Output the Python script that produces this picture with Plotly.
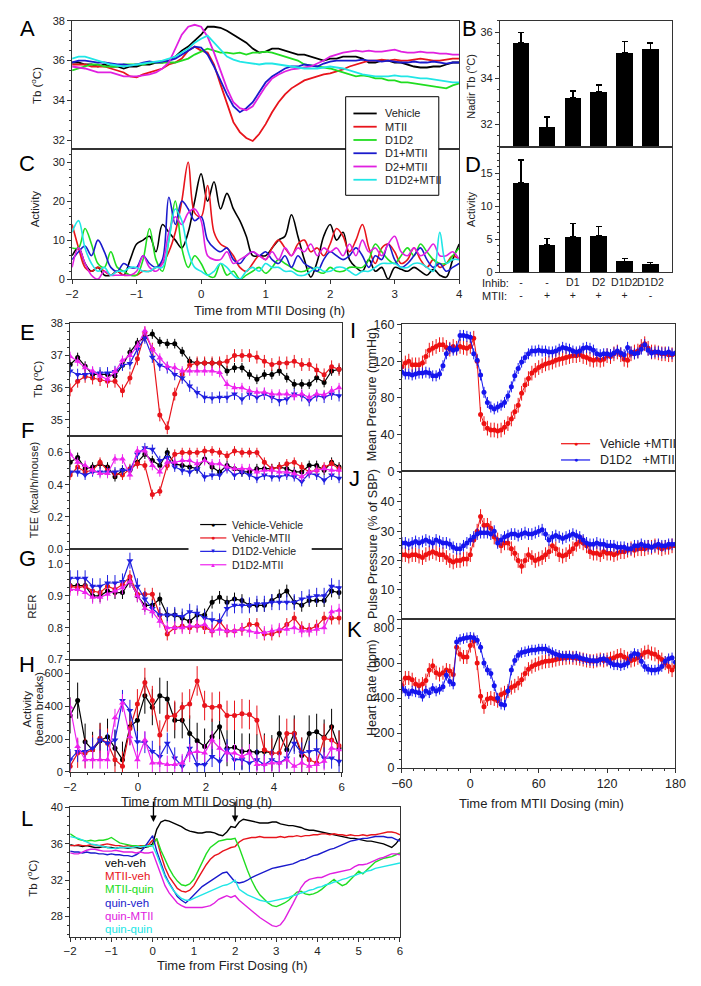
import plotly.graph_objects as go

W, H = 701, 986
FONT = "Liberation Sans, Arial, sans-serif"
LC = "#333333"

# ============================ DATA ============================
# ---- Panel A (Tb) and C (Activity): time grid (h) ----
A_T = [round(-2 + 0.1 * i, 1) for i in range(61)]
A_VEH = [35.9,35.9,35.8,35.8,35.7,35.8,35.7,35.7,35.6,35.7,
         35.7,35.8,35.8,35.9,35.9,36.0,36.2,36.5,36.7,37.0,
         37.3,37.7,37.7,37.65,37.5,37.3,37.1,36.9,36.6,36.4,
         36.45,36.6,36.6,36.5,36.4,36.3,36.3,36.2,36.1,36.0,
         36.1,36.1,36.2,36.2,36.2,36.1,35.9,35.9,36.0,36.0,
         35.9,35.9,35.8,35.7,35.65,35.65,35.7,35.7,35.8,35.9,35.9]
A_MTII = [35.8,35.8,35.8,35.7,35.7,35.7,35.6,35.5,35.4,35.2,
          35.15,35.3,35.4,35.5,35.6,35.8,35.9,36.1,36.5,36.7,
          36.5,36.4,35.8,34.8,33.8,32.9,32.4,32.1,31.95,32.3,
          32.8,33.4,33.9,34.3,34.6,34.8,35.0,35.1,35.2,35.3,
          35.35,35.45,35.55,35.7,35.8,35.9,36.0,36.0,36.05,36.0,
          36.05,36.0,36.0,36.05,36.1,36.05,36.0,36.0,36.05,36.1,36.1]
A_D1D2 = [35.5,35.6,35.7,35.8,35.8,35.7,35.7,35.7,35.8,35.8,
          35.8,35.8,35.9,35.9,35.9,35.9,35.9,36.0,36.1,36.3,
          36.45,36.6,36.5,36.4,36.4,36.35,36.4,36.3,36.4,36.4,
          36.45,36.4,36.3,36.2,36.1,36.0,35.8,35.75,35.7,35.65,
          35.6,35.5,35.4,35.3,35.2,35.25,35.2,35.1,35.1,35.0,
          35.0,34.9,34.9,34.85,34.8,34.75,34.7,34.65,34.6,34.75,34.85]
A_D1M = [35.9,36.0,36.0,35.95,35.9,35.9,35.85,35.8,35.8,35.75,
         35.8,35.9,35.95,35.9,35.95,36.0,36.1,36.3,36.5,36.7,
         36.65,36.3,35.7,35.0,34.3,33.7,33.4,33.6,33.9,34.4,
         34.9,35.2,35.4,35.6,35.7,35.7,35.8,35.75,35.7,35.85,
         35.95,36.0,36.0,36.0,36.0,36.05,36.0,36.0,35.95,36.0,
         35.95,35.9,35.9,35.95,35.9,35.9,35.95,35.9,35.85,35.9,35.9]
A_D2M = [35.7,35.65,35.6,35.5,35.4,35.4,35.4,35.3,35.2,35.2,
         35.2,35.25,35.3,35.4,35.6,35.9,36.6,37.3,37.7,37.8,
         37.7,37.2,36.4,35.5,34.6,33.9,33.6,33.5,33.7,34.2,
         34.7,35.1,35.3,35.45,35.55,35.6,35.65,35.7,35.85,36.0,
         36.2,36.3,36.4,36.45,36.5,36.45,36.5,36.45,36.45,36.5,
         36.55,36.45,36.4,36.4,36.45,36.4,36.4,36.35,36.35,36.3,36.3]
A_D1D2M = [36.1,36.2,36.2,36.1,36.0,35.9,35.8,35.75,35.7,35.75,
           35.8,35.85,35.9,35.95,36.0,36.1,36.2,36.4,36.6,36.9,
           37.1,37.25,36.9,36.5,36.2,36.05,35.95,35.9,35.85,35.8,
           35.85,35.85,35.8,35.75,35.7,35.65,35.6,35.6,35.6,35.65,
           35.7,35.65,35.6,35.5,35.4,35.3,35.25,35.2,35.2,35.2,
           35.25,35.2,35.2,35.15,35.1,35.1,35.05,35.0,34.95,34.9,34.9]

C_VEH = [6,8,4,2,3,1,1,2,1,5,
         9,10,11,7,14,12,10,8,12,20,
         27,20,25,18,22,18,15,11,6,6,
         6,8,10,11,16.5,11,5,0.5,4.5,11,
         14,10,12,5,3,2,5,2,3,0,
         3,2.5,2,3,2,1,2.5,1,0.5,5,9]
C_MTII = [14,8,3,2,3,2,1,2,1,1,
          1,2,2,3,4,7,12,20,30,17,
          16,24,12,9,8,6,3,2,4,6,
          5,8,10,8,6,9,10,7,8,6,
          9,13,11,7,10,14,8,4,8,9,
          7,4,5,8,5,3,5,3,4,6,5]
C_D1D2 = [8,8,13,9,4,3,7,3,2,1,
          1,5,13,5,2,10,20,8,3,6,
          4,1,0.5,4,1,2,0,1,2,3,
          1.5,3,5,4,3,2,2,3,2,1.5,
          3,2,2,3,3,3,5,9,7,5,
          4,6,8,6,9,7,5,4,4,6,8]
C_D1M = [5,7,8.5,6,10,7,3,2,4,3,
         3,6,4,3,5,21,14,20,18,15,
         16,10,8,7,8,5,4,6,7,6,
         7,5,4,6,3,6,4,3,2,5,
         7,6,5,6,8,6,3,6,5,9,
         5,3,4,6,8,5,3,4,2,3,4]
C_D2M = [3,8,4,1,0,2,1,1,1,1,
         2,6,3,2,4,12,16,14,17,18,
         15,6,5,5,7,4,5,6,7,6,
         5,7,5,8,6,8,7,9,6,8,
         7,8,6,9,6,10,7,8,6,9,
         11,7,6,8,6,7,9,6,6,7,5]
C_D1D2M = [12,15,8,4,2,3,1,2,2,3,
           3,2,2,3,3,10,18,15,7,3,
           2,1,2,4,3,1,0,2,3,2,
           4,3,3,2,2,1,1,2,3,2,
           2,3,3,2,1,2,2,3,4,4,
           4,3,3,4,4,3,2,12,4,5,5]
AC_NAMES = ["Vehicle", "MTII", "D1D2", "D1+MTII", "D2+MTII", "D1D2+MTII"]

# ---- Panels B and D (bars) ----
BAR_POS = [0, 1, 2, 3, 4, 5]
B_NADIR = [35.55, 31.85, 33.15, 33.4, 35.1, 35.25]
B_ERR = [0.45, 0.45, 0.3, 0.3, 0.5, 0.28]
D_ACT = [13.6, 4.2, 5.4, 5.5, 1.65, 1.2]
D_ERR = [3.4, 0.9, 2.0, 1.4, 0.45, 0.25]
INHIB_ROW = ["-", "-", "D1", "D2", "D1D2", "D1D2"]
MTII_ROW = ["-", "+", "+", "+", "+", "-"]

# ---- Panels E-H ----
E_T = [round(-2 + 0.22 * i, 2) for i in range(37)]
E_VV = [36.72,36.94,36.67,36.41,36.41,36.41,36.36,36.7,37.1,37.4,
        37.58,37.67,37.43,37.37,37.37,37.12,36.82,36.77,36.77,36.77,
        36.77,36.52,36.62,36.62,36.41,36.26,36.41,36.41,36.52,36.31,
        36.11,36.11,36.11,36.31,36.16,36.52,36.57]
E_VM = [35.93,36.2,36.35,36.3,36.25,36.2,36.2,35.9,36.3,36.9,
        37.7,37.2,35.15,34.75,35.8,36.41,36.7,36.77,36.77,36.77,
        36.77,36.82,37.0,37.0,37.0,36.95,36.82,36.72,36.77,36.77,
        36.82,36.72,36.72,36.55,36.4,36.65,36.57]
E_DV = [36.52,36.41,36.41,36.46,36.46,36.46,36.5,36.7,36.75,37.2,
        37.55,36.95,36.7,36.62,36.41,36.3,36.05,35.85,35.7,35.68,
        35.7,35.7,35.8,35.65,35.8,35.7,35.8,35.7,35.6,35.65,
        35.8,35.75,35.6,35.75,35.7,35.8,35.75]
E_DM = [36.97,36.82,36.62,36.52,36.36,36.26,36.5,36.85,37.0,37.3,
        37.77,37.2,36.92,36.67,36.62,36.52,36.52,36.52,36.52,36.52,
        36.47,36.1,36.0,36.0,35.9,35.86,35.86,35.8,35.8,35.8,
        35.75,35.8,35.7,35.8,35.78,35.9,36.0]
F_VV = [0.54,0.57,0.50,0.51,0.53,0.51,0.45,0.49,0.49,0.54,
        0.59,0.55,0.52,0.60,0.53,0.52,0.51,0.50,0.56,0.51,
        0.48,0.52,0.50,0.48,0.48,0.50,0.50,0.50,0.51,0.50,
        0.48,0.48,0.52,0.52,0.49,0.54,0.51]
F_VM = [0.46,0.51,0.48,0.49,0.54,0.49,0.47,0.46,0.50,0.53,
        0.52,0.34,0.36,0.52,0.59,0.60,0.60,0.60,0.61,0.61,
        0.60,0.58,0.61,0.60,0.60,0.60,0.54,0.50,0.51,0.53,
        0.54,0.51,0.48,0.49,0.51,0.53,0.50]
F_DV = [0.48,0.48,0.46,0.48,0.48,0.48,0.48,0.49,0.49,0.59,
        0.63,0.62,0.55,0.57,0.51,0.49,0.48,0.50,0.45,0.46,
        0.46,0.50,0.46,0.48,0.46,0.44,0.46,0.45,0.45,0.46,
        0.45,0.42,0.47,0.46,0.43,0.46,0.44]
F_DM = [0.59,0.54,0.52,0.49,0.47,0.47,0.56,0.56,0.46,0.61,
        0.61,0.52,0.48,0.54,0.54,0.55,0.55,0.53,0.55,0.53,
        0.53,0.51,0.50,0.50,0.50,0.48,0.49,0.49,0.48,0.48,
        0.47,0.45,0.48,0.49,0.50,0.49,0.49]
G_VV = [0.932,0.932,0.932,0.90,0.90,0.915,0.91,0.91,0.946,0.90,
        0.87,0.87,0.89,0.84,0.84,0.83,0.82,0.84,0.84,0.88,
        0.895,0.88,0.89,0.885,0.87,0.87,0.87,0.885,0.90,0.915,
        0.88,0.87,0.885,0.885,0.885,0.915,0.91]
G_VM = [0.93,0.925,0.93,0.915,0.91,0.93,0.92,0.935,0.96,0.905,
        0.905,0.905,0.84,0.78,0.80,0.805,0.80,0.805,0.80,0.79,
        0.82,0.79,0.79,0.795,0.81,0.81,0.78,0.78,0.79,0.81,
        0.83,0.80,0.795,0.805,0.83,0.83,0.83]
G_DV = [0.955,0.955,0.955,0.93,0.93,0.94,0.94,0.945,1.01,0.93,
        0.89,0.86,0.84,0.84,0.84,0.835,0.85,0.845,0.83,0.825,
        0.82,0.86,0.87,0.87,0.87,0.875,0.875,0.88,0.88,0.88,
        0.88,0.89,0.895,0.90,0.90,0.93,0.925]
G_DM = [0.92,0.92,0.91,0.895,0.895,0.905,0.915,0.925,0.945,0.90,
        0.86,0.85,0.82,0.80,0.80,0.80,0.805,0.805,0.81,0.79,
        0.795,0.79,0.79,0.795,0.79,0.785,0.785,0.79,0.795,0.795,
        0.80,0.79,0.79,0.795,0.80,0.85,0.855]
H_VV = [345,435,185,135,190,215,145,75,275,315,
        465,395,465,445,315,315,235,190,155,215,
        275,145,150,125,125,120,125,115,235,135,
        235,100,235,245,210,275,145]
H_VM = [35,115,115,135,205,175,75,35,265,415,
        545,435,225,335,345,395,415,555,405,395,
        400,345,345,355,350,315,135,115,115,235,
        235,120,75,55,205,195,160]
H_DV = [75,125,125,145,195,175,195,435,375,185,
        180,125,95,175,85,35,145,45,45,95,
        65,135,75,75,55,75,45,75,55,85,
        175,115,125,135,85,85,65]
H_DM = [395,155,75,75,75,75,330,420,215,75,
        195,55,55,45,45,55,115,125,115,195,
        145,115,115,95,115,45,45,55,55,75,
        35,55,35,45,65,145,135]
EH_NAMES = ["Vehicle-Vehicle", "Vehicle-MTII", "D1D2-Vehicle", "D1D2-MTII"]
E_SEM = [0.15, 0.2, 0.18, 0.15]
F_SEM = [0.03, 0.03, 0.03, 0.03]
G_SEM = [0.02, 0.02, 0.025, 0.02]
H_SEM = [110, 90, 65, 55]

# ---- Panels I-K (min) ----
IK_T = list(range(-60, 181, 3))
I_VEH = [114,118,120,116,116,116,118,125,132,134,
         136,138,138,135,133,136,134,136,135,134,
         136,145,120,62,52,47,45,45,44,45,
         48,52,57,65,72,85,94,101,107,110,
         113,115,117,118,119,121,122,123,124,125,
         126,126,127,125,124,122,121,122,121,122,
         126,125,128,130,127,122,121,128,130,131,
         136,139,134,130,130,129,128,128,127,127,128]
I_D1D2 = [108,106,106,105,106,107,107,108,107,104,
          104,106,115,128,134,132,133,148,148,147,
          146,128,121,105,86,75,70,68,70,72,
          75,82,92,104,112,119,124,128,131,131,
          132,131,131,130,130,131,133,135,134,133,
          131,130,131,134,135,134,132,128,127,128,
          128,127,129,131,129,127,135,130,128,129,
          133,138,132,129,130,130,129,129,130,128,129]
J_VEH = [22,22,21.5,22,22,21.5,21,22,22.5,23,
         22.5,22,22,21,20,19.5,20,20,20.5,20.5,
         22,27,30,35,32,32,31,28,27,25,
         26,26,24,22.5,20,18,20,22,21,20,
         20.5,21,22,23,25,24,22,21.5,22,23,
         24,25.5,26.5,26,25,23,22.5,22.5,22,23,
         22.5,22.5,22,22.5,23,23,23.5,24,23.5,24,
         24,24,24.5,24.5,25,24.5,24,24.5,24.5,25,25]
J_D1D2 = [26,26,25.5,26,26.5,26,26.5,27,26.5,26,
          27,26.5,26,26,25.5,24.5,24,24,25,26,
          27,28,29,29.5,29.5,29.5,29,30,26,27,
          28,28.5,29,29,28.5,29,29.5,29,29,29.5,
          30,30.5,29,27,28,28.5,28,27.5,28,28.5,
          29,28.5,28,27,26,25.5,25.5,26,25.5,25.5,
          25,25,25,24.5,24.5,24.5,24,24,25,25,
          25.5,25,25,24.5,25,25.5,25,25,25.5,25.5,25.5]
K_VEH = [473,515,515,505,480,470,480,500,560,585,
         545,535,545,560,555,535,690,650,635,635,
         700,725,600,410,350,395,400,395,385,420,
         430,440,460,470,485,505,540,565,580,590,
         598,605,610,612,615,620,625,628,630,632,
         630,628,625,620,615,612,610,615,620,615,
         620,625,630,640,645,635,625,615,620,630,
         645,660,665,655,650,635,620,600,580,560,580]
K_D1D2 = [455,440,425,440,435,430,410,440,430,455,
          440,450,465,530,495,480,720,735,740,745,
          748,745,730,690,600,560,540,470,400,365,
          360,440,560,615,645,660,665,670,675,675,
          680,680,680,670,660,650,645,640,640,640,
          635,640,630,625,620,615,615,612,620,625,
          615,600,590,590,585,590,600,640,655,650,
          610,580,565,560,560,565,580,610,625,630,605]
IK_NAMES = ["Vehicle\u00a0+MTII", "D1D2\u00a0\u00a0\u00a0+MTII"]
I_SEM = [8, 6]
J_SEM = [2.5, 2.0]
K_SEM = [40, 30]

# ---- Panel L ----
L_T = [round(-2 + 0.1 * i, 1) for i in range(81)]
L_VV = [35.9,35.8,35.8,35.7,35.8,35.7,35.6,35.6,35.7,35.6,
        35.6,35.5,35.6,35.6,35.5,35.6,35.6,35.5,35.6,35.7,
        36.0,37.6,38.4,38.6,38.5,38.3,38.1,37.9,37.6,37.4,
        37.3,37.2,37.2,37.3,37.3,37.2,37.0,36.9,37.3,37.9,
        37.8,38.4,38.7,38.6,38.5,38.4,38.3,38.3,38.3,38.4,
        38.4,38.2,38.1,38.0,38.0,37.9,37.8,37.6,37.5,37.5,
        37.4,37.3,37.2,37.1,37.0,36.9,36.8,36.7,36.6,36.6,
        36.5,36.4,36.3,36.3,36.2,36.1,36.0,35.8,35.6,36.0,36.6]
L_MV = [35.8,35.8,35.9,35.8,35.8,35.9,35.9,35.8,35.9,36.0,
        35.9,35.8,35.8,35.7,35.8,35.7,35.7,35.8,35.8,35.9,
        36.4,36.5,34.8,33.4,32.4,31.7,31.1,30.8,30.7,30.9,
        31.4,32.2,33.0,33.7,34.3,34.7,34.9,35.2,35.4,35.6,
        35.7,36.2,36.5,36.6,36.7,36.7,36.8,36.7,36.7,36.7,
        36.7,36.8,36.7,36.8,36.8,36.9,36.8,36.9,36.9,37.0,
        37.0,37.1,37.1,37.0,37.1,37.0,37.0,36.9,37.0,36.9,
        36.9,37.0,36.9,37.0,37.0,37.1,37.2,37.3,37.3,37.2,37.0]
L_MQ = [37.1,36.8,36.5,36.4,36.3,36.4,36.3,36.4,36.4,36.5,
        36.7,36.4,36.1,36.0,35.9,35.8,35.8,35.7,35.8,35.7,
        35.8,36.6,35.3,34.2,33.3,32.5,31.9,31.5,31.4,31.6,
        32.1,33.0,34.0,34.9,35.6,36.0,36.3,36.4,36.5,36.5,
        36.6,35.6,34.3,33.1,32.0,31.1,30.4,29.9,29.5,29.2,
        29.1,29.3,29.5,29.8,30.3,30.7,30.8,30.5,30.4,30.5,
        30.7,31.0,31.4,31.8,32.1,31.7,31.4,31.6,32.1,32.6,
        33.0,32.7,33.1,33.6,34.0,34.2,34.4,34.5,34.6,34.8,35.0]
L_QV = [35.2,35.1,35.1,35.0,35.1,35.0,35.0,34.9,34.9,34.8,
        34.9,34.8,34.8,34.7,34.7,34.6,34.8,35.1,35.6,36.3,
        36.9,35.2,33.8,32.6,31.7,30.9,30.2,29.8,29.5,29.9,
        30.4,30.9,31.3,31.6,31.9,32.2,32.5,32.8,32.9,32.4,
        31.8,31.7,31.8,32.0,32.3,32.5,32.7,32.9,33.1,33.3,
        33.4,33.5,33.6,33.7,33.8,34.0,34.2,34.3,34.5,34.7,
        34.8,35.0,35.2,35.4,35.5,35.7,35.9,36.1,36.3,36.4,
        36.5,36.6,36.6,36.7,36.8,36.8,36.8,36.7,36.7,36.5,36.3]
L_QM = [35.0,34.9,34.9,35.1,35.3,35.4,35.4,35.3,35.2,35.2,
        35.2,35.3,35.2,35.1,35.1,35.1,35.0,35.1,35.0,35.0,
        35.1,33.9,32.5,31.4,30.6,30.0,29.5,29.2,29.0,29.0,
        29.0,29.0,29.0,29.1,29.2,29.5,29.9,30.1,30.3,30.1,
        30.3,29.8,29.4,29.0,28.6,28.2,27.9,27.6,27.3,27.0,
        26.9,27.1,27.7,28.5,29.4,30.3,31.2,31.8,32.1,32.2,
        32.3,32.3,32.5,32.7,32.8,32.9,33.0,33.1,33.2,33.5,
        33.7,33.7,33.8,34.0,34.2,34.4,34.5,34.7,34.9,34.9,34.8]
L_QQ = [36.8,36.7,36.6,36.4,36.2,36.0,35.9,35.8,35.7,35.6,
        35.5,35.5,35.6,35.6,35.6,35.6,35.7,35.7,35.7,35.8,
        35.8,34.8,33.5,32.4,31.6,30.9,30.4,30.0,29.8,29.8,
        30.0,30.2,30.4,30.6,30.8,31.0,31.2,31.4,31.5,31.7,
        32.0,31.0,30.7,30.4,30.2,30.0,29.8,29.7,29.6,29.7,
        29.8,29.9,30.0,30.1,30.3,30.4,30.6,30.7,30.9,31.0,
        31.2,31.3,31.5,31.6,31.8,31.9,32.1,32.2,32.4,32.5,
        32.7,32.8,33.0,33.1,33.3,33.4,33.5,33.6,33.7,33.8,33.9]
L_NAMES = ["veh-veh", "MTII-veh", "MTII-quin", "quin-veh", "quin-MTII", "quin-quin"]
DOSE_TIMES = [0.02, 2.0]
DOSE_ARROW_TB = 38.4

for arr, n in [(A_VEH, 61), (A_MTII, 61), (A_D1D2, 61), (A_D1M, 61), (A_D2M, 61), (A_D1D2M, 61),
               (C_VEH, 61), (C_MTII, 61), (C_D1D2, 61), (C_D1M, 61), (C_D2M, 61), (C_D1D2M, 61),
               (E_VV, 37), (E_VM, 37), (E_DV, 37), (E_DM, 37), (F_VV, 37), (F_VM, 37), (F_DV, 37), (F_DM, 37),
               (G_VV, 37), (G_VM, 37), (G_DV, 37), (G_DM, 37), (H_VV, 37), (H_VM, 37), (H_DV, 37), (H_DM, 37),
               (I_VEH, 81), (I_D1D2, 81), (J_VEH, 81), (J_D1D2, 81), (K_VEH, 81), (K_D1D2, 81),
               (L_VV, 81), (L_MV, 81), (L_MQ, 81), (L_QV, 81), (L_QM, 81), (L_QQ, 81)]:
    assert len(arr) == n, (len(arr), n, arr[:3])

# ============================ STYLE ============================
C6 = ["#000000", "#e8141c", "#20dd20", "#1a1acc", "#e020e0", "#20e6e6"]
C4 = ["#000000", "#e8141c", "#1f1fe0", "#ee22ee"]
SYM4 = ["circle", "circle", "triangle-down", "triangle-up"]
C2 = ["#ee1111", "#1515ee"]


def xdom(a, b):
    return [a / W, b / W]


def ydom(top, bot):
    return [1 - bot / H, 1 - top / H]


def axis(dom, rng, anchor, labels=True, fsize=11, **kw):
    d = dict(domain=dom, range=rng, anchor=anchor, showline=True, mirror=True,
             linecolor=LC, linewidth=1, showgrid=False, zeroline=False, fixedrange=True)
    if labels:
        d.update(ticks="outside", ticklen=4, tickwidth=1, tickcolor=LC, showticklabels=True,
                 tickfont=dict(size=fsize, color="#222", family=FONT))
    else:
        d.update(ticks="", showticklabels=False)
    minor = kw.pop("minor", None)
    if minor is not None:
        d["minor"] = dict(ticks="outside", ticklen=2, tickcolor=LC, tickmode="linear",
                          tick0=minor[0], dtick=minor[1], showgrid=False)
    d.update(kw)
    return d


fig = go.Figure()

# ---- A ----
for ys, col in zip([A_VEH, A_MTII, A_D1D2, A_D1M, A_D2M, A_D1D2M], C6):
    fig.add_trace(go.Scatter(x=A_T, y=ys, mode="lines", line=dict(color=col, width=1.8),
                             xaxis="x", yaxis="y", showlegend=False))
# ---- C ----
for ys, col in zip([C_VEH, C_MTII, C_D1D2, C_D1M, C_D2M, C_D1D2M], C6):
    fig.add_trace(go.Scatter(x=A_T, y=ys, mode="lines",
                             line=dict(color=col, width=1.6, shape="spline", smoothing=1.0),
                             xaxis="x2", yaxis="y2", showlegend=False))
# ---- B, D ----
fig.add_trace(go.Bar(x=BAR_POS, y=B_NADIR, width=0.64, marker=dict(color="black", line=dict(width=0)),
                     error_y=dict(type="data", array=B_ERR, arrayminus=[0] * 6, symmetric=False,
                                  color="black", thickness=1.5, width=3),
                     xaxis="x3", yaxis="y3", showlegend=False))
fig.add_trace(go.Bar(x=BAR_POS, y=D_ACT, width=0.64, marker=dict(color="black", line=dict(width=0)),
                     error_y=dict(type="data", array=D_ERR, arrayminus=[0] * 6, symmetric=False,
                                  color="black", thickness=1.5, width=3),
                     xaxis="x4", yaxis="y4", showlegend=False))

# ---- E-H ----
for k, (sets, sems) in enumerate([((E_VV, E_VM, E_DV, E_DM), E_SEM), ((F_VV, F_VM, F_DV, F_DM), F_SEM),
                                  ((G_VV, G_VM, G_DV, G_DM), G_SEM), ((H_VV, H_VM, H_DV, H_DM), H_SEM)]):
    ax = 5 + k
    for ys, col, sym, sem in zip(sets, C4, SYM4, sems):
        fig.add_trace(go.Scatter(x=E_T, y=ys, mode="lines+markers",
                                 line=dict(color=col, width=1.2),
                                 marker=dict(color=col, symbol=sym, size=5 if sym == "circle" else 6),
                                 error_y=dict(type="constant", value=sem, color=col, thickness=1, width=0),
                                 xaxis=f"x{ax}", yaxis=f"y{ax}", showlegend=False))

# ---- I-K ----
for k, (sets, sems) in enumerate([((I_VEH, I_D1D2), I_SEM), ((J_VEH, J_D1D2), J_SEM),
                                  ((K_VEH, K_D1D2), K_SEM)]):
    ax = 9 + k
    for ys, col, sem in zip(sets, C2, sems):
        fig.add_trace(go.Scatter(x=IK_T, y=ys, mode="lines+markers",
                                 line=dict(color=col, width=1),
                                 marker=dict(color=col, size=5),
                                 error_y=dict(type="constant", value=sem, color=col, thickness=1, width=0),
                                 xaxis=f"x{ax}", yaxis=f"y{ax}", showlegend=False))

# ---- L ----
for ys, col in zip([L_VV, L_MV, L_MQ, L_QV, L_QM, L_QQ], C6):
    fig.add_trace(go.Scatter(x=L_T, y=ys, mode="lines", line=dict(color=col, width=1.4),
                             xaxis="x12", yaxis="y12", showlegend=False))

# ============================ AXES ============================
lay = {}
# A / C
lay["xaxis"] = axis(xdom(63, 462), [-2, 4], "y", labels=False)
lay["yaxis"] = axis(ydom(14, 144), [31.55, 38], "x", tick0=32, dtick=2, minor=(32, 0.5))
lay["xaxis2"] = axis(xdom(63, 462), [-2, 4], "y2", tick0=-2, dtick=1, fsize=11.5)
lay["yaxis2"] = axis(ydom(144, 276), [0, 33.4], "x2", tick0=0, dtick=10, minor=(0, 2))
# B / D
lay["xaxis3"] = axis(xdom(504, 681), [-0.82, 5.82], "y3", labels=False)
lay["yaxis3"] = axis(ydom(14, 142), [31, 36.5], "x3", tick0=32, dtick=2, minor=(31, 0.5))
lay["xaxis4"] = axis(xdom(504, 681), [-0.82, 5.82], "y4", tickmode="array", tickvals=BAR_POS,
                     ticktext=[f"{a}<br>{b}" for a, b in zip(INHIB_ROW, MTII_ROW)], fsize=10.5)
lay["xaxis4"].update(ticks="", ticklen=0, tickangle=0)
lay["yaxis4"] = axis(ydom(142, 269), [0, 19], "x4", tick0=0, dtick=5, minor=(0, 1))
# E-H
lay["xaxis5"] = axis(xdom(61, 341), [-2, 6], "y5", labels=False)
lay["yaxis5"] = axis(ydom(321, 435), [34.5, 38], "x5", tick0=35, dtick=1, minor=(34.5, 0.25))
lay["xaxis6"] = axis(xdom(61, 341), [-2, 6], "y6", labels=False)
lay["yaxis6"] = axis(ydom(435, 550), [0, 0.704], "x6", tick0=0, dtick=0.2, tickformat=".1f", minor=(0, 0.05))
lay["xaxis7"] = axis(xdom(61, 341), [-2, 6], "y7", labels=False)
lay["yaxis7"] = axis(ydom(550, 662), [0.7, 1.046], "x7", tickmode="array", tickvals=[0.7, 0.8, 0.9, 1.0],
                     ticktext=["0.7", "0.8", "0.9", "1.0"], minor=(0.7, 0.025))
lay["xaxis8"] = axis(xdom(61, 341), [-2, 6], "y8", tick0=-2, dtick=2, minor=(-2, 0.5), fsize=11.5)
lay["yaxis8"] = axis(ydom(662, 776), [0, 685], "x8", tick0=0, dtick=200, minor=(0, 50))
# I-K
lay["xaxis9"] = axis(xdom(403, 685), [-60, 180], "y9", labels=False)
lay["yaxis9"] = axis(ydom(322, 471), [0, 160], "x9", tick0=0, dtick=40, minor=(0, 10), fsize=12.5)
lay["xaxis10"] = axis(xdom(403, 685), [-60, 180], "y10", labels=False)
lay["yaxis10"] = axis(ydom(471, 621), [0, 50.4], "x10", tickmode="array", tickvals=[0, 10, 20, 30, 40],
                      minor=(0, 2.5), fsize=12.5)
lay["xaxis11"] = axis(xdom(403, 685), [-60, 180], "y11", tick0=-60, dtick=60, minor=(-60, 10), fsize=12.5)
lay["yaxis11"] = axis(ydom(621, 772), [0, 851], "x11", tickmode="array", tickvals=[0, 200, 400, 600, 800],
                      minor=(0, 50), fsize=12.5)
# L
lay["xaxis12"] = axis(xdom(61, 401), [-2, 6], "y12", tick0=-2, dtick=1, minor=(-2, 0.125), fsize=11.5)
lay["yaxis12"] = axis(ydom(812, 943), [25.8, 40], "x12", tick0=28, dtick=4, minor=(26, 1))

# ============================ TEXT ============================
anns = []
shapes = []


def txt(text, x, y, size=12, color="#222", angle=0, xanchor="center", yanchor="middle"):
    anns.append(dict(text=text, x=x / W, y=1 - y / H, xref="paper", yref="paper", showarrow=False,
                     font=dict(size=size, color=color, family=FONT), textangle=angle,
                     xanchor=xanchor, yanchor=yanchor))


def pline(x0, y0, x1, y1, color, width=1.6):
    shapes.append(dict(type="line", xref="paper", yref="paper", x0=x0 / W, x1=x1 / W,
                       y0=1 - y0 / H, y1=1 - y1 / H, line=dict(color=color, width=width), layer="above"))


# panel letters
for lab, x, y in [("A", 17, 22), ("B", 473, 22), ("C", 17, 159), ("D", 476, 160), ("E", 17, 330),
                  ("F", 17, 430), ("G", 17, 559), ("H", 17, 667), ("I", 353, 328), ("J", 354, 478),
                  ("K", 354, 631), ("L", 17, 823)]:
    txt(lab, x, y, size=22, color="black")

# axis titles
txt("Tb (<sup>o</sup>C)", 26, 80, size=11.5, angle=-90)
txt("Activity", 25, 205, size=11.5, angle=-90)
txt("Nadir Tb (<sup>o</sup>C)", 473, 80, size=11, angle=-90)
txt("Activity", 474, 205, size=11, angle=-90)
txt("Tb (<sup>o</sup>C)", 27, 378, size=11.5, angle=-90)
txt("TEE (kcal/h/mouse)", 24, 490, size=11, angle=-90)
txt("RER", 22, 608, size=11.5, angle=-90)
txt("Activity", 16, 712, size=11.5, angle=-90)
txt("(beam breaks)", 29, 712, size=11.5, angle=-90)
txt("Mean Pressure (mmHg)", 373, 393, size=12.5, angle=-90)
txt("Pulse Pressure (% of SBP)", 373, 545, size=12.5, angle=-90)
txt("Heart Rate (bpm)", 372, 690, size=12.5, angle=-90)
txt("Tb (<sup>o</sup>C)", 22, 884, size=11.5, angle=-90)
txt("Time from MTII Dosing (h)", 266, 308, size=13)
txt("Time from MTII Dosing (h)", 191, 806, size=13)
txt("Time from MTII Dosing (min)", 547, 808, size=13)
txt("Time from First Dosing (h)", 228, 972, size=13)
txt("Inhib:", 483, 280, size=11, xanchor="left")
txt("MTII:", 483, 293, size=11, xanchor="left")

# legend A (manual, compact)
shapes.append(dict(type="rect", xref="paper", yref="paper", x0=345 / W, x1=441 / W,
                   y0=1 - 191 / H, y1=1 - 91 / H, line=dict(color="black", width=1),
                   fillcolor="white", layer="above"))
for i, (name, col) in enumerate(zip(AC_NAMES, C6)):
    yy = 108 + i * 13.45
    pline(353, yy, 377, yy, col, 1.8)
    txt(name, 383, yy, size=11, xanchor="left")

# legend E-H
shapes.append(dict(type="rect", xref="paper", yref="paper", x0=183 / W, x1=310 / W,
                   y0=1 - 572 / H, y1=1 - 518 / H, line=dict(width=0), fillcolor="white", layer="above"))
glyph = {"circle": "\u25CF", "triangle-down": "\u25BC", "triangle-up": "\u25B2"}
for i, (name, col, sym) in enumerate(zip(EH_NAMES, C4, SYM4)):
    yy = 525 + i * 13.6
    pline(195, yy, 222, yy, col, 1.2)
    txt(glyph[sym], 208.5, yy, size=7 if sym == "circle" else 6, color=col)
    txt(name, 226, yy, size=10.5, xanchor="left")

# legend I
for i, (name, col) in enumerate(zip(IK_NAMES, C2)):
    yy = 443 + i * 16.5
    pline(567, yy, 597, yy, col, 1.2)
    txt("\u25CF", 582, yy, size=7, color=col)
    txt(name, 605, yy, size=12.5, xanchor="left")

# legend L (coloured labels)
for i, (name, col) in enumerate(zip(L_NAMES, C6)):
    txt(name, 95, 868 + i * 13.5, size=11.5, color=col, xanchor="left")

# dosing arrows in L
for t in DOSE_TIMES:
    anns.append(dict(x=t, y=DOSE_ARROW_TB, xref="x12", yref="y12", text="", showarrow=True,
                     ax=0, ay=-22, arrowhead=2, arrowsize=1, arrowwidth=1.3, arrowcolor="black"))

fig.update_layout(width=W, height=H, autosize=False, margin=dict(l=0, r=0, t=0, b=0, pad=0),
                  paper_bgcolor="white", plot_bgcolor="white", showlegend=False,
                  font=dict(family=FONT, size=11, color="#222"), bargap=0,
                  annotations=anns, shapes=shapes, **lay)

fig.write_html("out.html", config={"displayModeBar": False, "staticPlot": True},
               post_script="document.body.style.margin='0';")
